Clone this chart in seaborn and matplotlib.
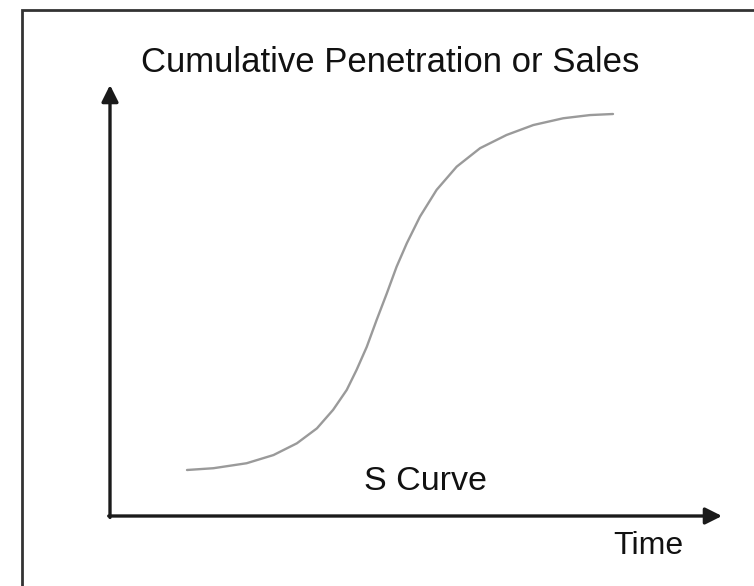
import matplotlib
matplotlib.use("Agg")
import matplotlib.pyplot as plt
from matplotlib.patches import Rectangle
import seaborn as sns
import pandas as pd

# Data (time units 0..10, penetration 0..100 %)
time = [0.0, 0.62, 1.40, 2.03, 2.58, 3.05, 3.43, 3.75, 3.98, 4.22, 4.45, 4.69,
        4.92, 5.16, 5.47, 5.86, 6.33, 6.88, 7.50, 8.13, 8.83, 9.46, 10.0]
penetration = [0.0, 0.5, 1.9, 4.2, 7.5, 11.7, 16.9, 22.5, 28.1, 34.6, 42.1, 49.6,
               57.1, 63.7, 71.2, 78.7, 85.2, 90.4, 94.1, 96.9, 98.8, 99.7, 100.0]

title_text = "Cumulative Penetration or Sales"
x_label = "Time"
curve_label = "S Curve"

df = pd.DataFrame({"Time": time, "Penetration": penetration})

sns.set_theme(style="white")
plt.rcParams["font.family"] = ["Liberation Sans", "DejaVu Sans"]

W, H = 754, 586
fig = plt.figure(figsize=(W / 100, H / 100), dpi=100)
fig.patch.set_facecolor("white")
ax = fig.add_axes([0, 0, 1, 1])
ax.set_facecolor("white")

# pixel mapping: x_px = 187 + 42.6 * t ; y_px(top) = 470 - 3.56 * p
sx, sy = 42.6, 3.56
ax.set_xlim(-187 / sx, (W - 187) / sx)
ax.set_ylim((470 - H) / sy, 470 / sy)

sns.lineplot(data=df, x="Time", y="Penetration", ax=ax, color="#9a9a9a",
             linewidth=1.7, legend=False, solid_joinstyle="round",
             solid_capstyle="round")

# axis arrows
cx, cy = (110 - 187) / sx, (470 - 516) / sy
ytip = (470 - 85) / sy
xtip = (722 - 187) / sx
arrow_kw = dict(arrowstyle="-|>,head_length=0.5,head_width=0.25", lw=2.4,
                color="#1a1a1a", mutation_scale=20, shrinkA=0, shrinkB=0)
ax.annotate("", xy=(cx, ytip), xytext=(cx, cy - 0.4), arrowprops=arrow_kw)
ax.annotate("", xy=(xtip, cy), xytext=(cx - 0.03, cy), arrowprops=arrow_kw)

ax.set_axis_off()

# texts
fig.text(390 / W, 1 - 63 / H, title_text, ha="center", va="center",
         fontsize=25, color="#111111")
fig.text(426 / W, 1 - 482 / H, curve_label, ha="center", va="center",
         fontsize=24.5, color="#111111")
fig.text(648 / W, 1 - 546 / H, x_label, ha="center", va="center",
         fontsize=23, color="#111111")

# outer frame (cut at right and bottom like the reference)
fig.patches.append(Rectangle((22 / W, -0.2), 1.2, 1.2 - 10 / H,
                             fill=False, lw=2.0, ec="#333333",
                             transform=fig.transFigure, clip_on=False))

fig.savefig("out.png", dpi=100)
